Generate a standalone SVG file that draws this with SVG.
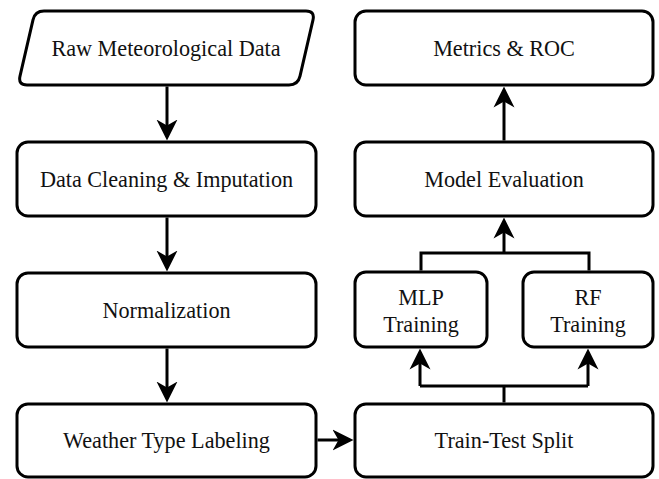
<svg xmlns="http://www.w3.org/2000/svg" width="659" height="479" viewBox="0 0 659 479">
  <defs>
    <style>
      .box { fill: #ffffff; stroke: #000000; stroke-width: 3; }
      text { font-family: 'Liberation Serif', 'Times New Roman', serif; font-size: 22.2px; fill: #111111; text-anchor: middle; }
      .wire { fill: none; stroke: #000000; stroke-width: 3; stroke-linejoin: miter; }
      .flow { marker-end: url(#head); }
    </style>
    <!-- notched arrowhead; the tip sits 4px past the line end -->
    <marker id="head" viewBox="-21 -11 21 22" markerWidth="21" markerHeight="22" refX="-4" refY="0" orient="auto" markerUnits="userSpaceOnUse">
      <path d="M0,0 L-21,-10.5 L-15,0 L-21,10.5 Z" fill="#000000"/>
    </marker>
  </defs>
  <rect width="659" height="479" fill="#ffffff"/>

  <!-- connectors -->
  <g id="connectors">
    <path class="wire flow" d="M167,86.5 V136.5"/>
    <path class="wire flow" d="M167,217.5 V267.5"/>
    <path class="wire flow" d="M167,348.5 V398.5"/>
    <path class="wire flow" d="M317.5,440 H349.5"/>
    <path class="wire" d="M504,402.5 V386"/>
    <path class="wire flow" d="M420,386 H504 M420,386 V352.5"/>
    <path class="wire flow" d="M588,386 H504 M588,386 V352.5"/>
    <path class="wire" d="M421,270.5 V253 H589 V270.5"/>
    <path class="wire flow" d="M504,253 V221.5"/>
    <path class="wire flow" d="M504,140.5 V90.5"/>
  </g>

  <!-- left column -->
  <g id="raw-data">
    <path class="box" d="M44,11 L306,11 Q315,11 313,19.8 L300,76.2 Q298,85 289,85 L27,85 Q18,85 20,76.2 L33,19.8 Q35,11 44,11 Z"/>
    <text x="166" y="55.5">Raw Meteorological Data</text>
  </g>
  <g id="cleaning">
    <rect class="box" x="17" y="142" width="299" height="74" rx="11"/>
    <text x="166.5" y="186.5">Data Cleaning &amp; Imputation</text>
  </g>
  <g id="normalization">
    <rect class="box" x="17" y="273" width="299" height="74" rx="11"/>
    <text x="166.5" y="317.5">Normalization</text>
  </g>
  <g id="labeling">
    <rect class="box" x="17" y="404" width="299" height="73" rx="11"/>
    <text x="166.5" y="448">Weather Type Labeling</text>
  </g>

  <!-- right column -->
  <g id="metrics">
    <rect class="box" x="355" y="11" width="298" height="74" rx="11"/>
    <text x="504" y="55.5">Metrics &amp; ROC</text>
  </g>
  <g id="evaluation">
    <rect class="box" x="355" y="142" width="298" height="74" rx="11"/>
    <text x="504" y="186.5">Model Evaluation</text>
  </g>
  <g id="mlp">
    <rect class="box" x="355" y="272" width="132" height="75" rx="11"/>
    <text x="421" y="305">MLP</text>
    <text x="421" y="332">Training</text>
  </g>
  <g id="rf">
    <rect class="box" x="523" y="272" width="130" height="75" rx="11"/>
    <text x="588" y="305">RF</text>
    <text x="588" y="332">Training</text>
  </g>
  <g id="split">
    <rect class="box" x="355" y="404" width="298" height="73" rx="11"/>
    <text x="504" y="448">Train-Test Split</text>
  </g>
</svg>
